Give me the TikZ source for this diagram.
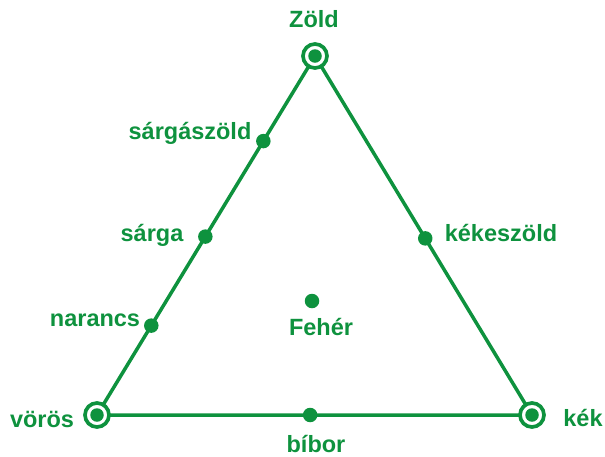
\documentclass[tikz,border=0pt]{standalone}
\usepackage{fontspec}
\setmainfont{Liberation Sans}
\usetikzlibrary{calc}
\definecolor{gr}{RGB}{14,146,62}
\begin{document}
\begin{tikzpicture}[x=1pt,y=-1pt,
  lbl/.style={text=gr,font=\fontsize{23.5}{26}\selectfont\bfseries,inner sep=0pt,anchor=base},
  edge/.style={draw=gr,line width=3.5pt},
  dotn/.style={circle,fill=gr,minimum size=14.5pt,inner sep=0pt},
  vtx/.style={circle,fill=gr,minimum size=13.5pt,inner sep=0pt},
  ring/.style={draw=gr,line width=3.7pt,fill=white}]
\useasboundingbox (0,0) rectangle (605,456);
\coordinate (G) at (315,56);
\coordinate (R) at (97,415);
\coordinate (B) at (532,415);
\draw[edge] (G) -- (R) -- (B) -- cycle;
\foreach \v in {G,R,B}{
  \draw[ring] (\v) circle (12pt);
  \node[vtx] at (\v) {};
}
\node[dotn] (sz) at ($(G)!0.237!(R)$) {};
\node[dotn] (sa) at ($(G)!0.503!(R)$) {};
\node[dotn] (na) at ($(G)!0.751!(R)$) {};
\node[dotn] (ke) at ($(G)!0.508!(B)$) {};
\node[dotn] (bi) at ($(R)!0.49!(B)$) {};
\node[dotn] (fe) at (312,301) {};
\node[lbl] (tG) at (314,27) {Zöld};
\node[lbl] (tsz) at (190,139) {sárgászöld};
\node[lbl] (tsa) at (152,241) {sárga};
\node[lbl] (tna) at (95,326) {narancs};
\node[lbl] (tke) at (501,241) {kékeszöld};
\node[lbl] (tfe) at (321,335) {Fehér};
\node[lbl] (tR) at (42,427) {vörös};
\node[lbl] (tB) at (583,426) {kék};
\node[lbl] (tbi) at (316,452) {bíbor};
\end{tikzpicture}
\end{document}
